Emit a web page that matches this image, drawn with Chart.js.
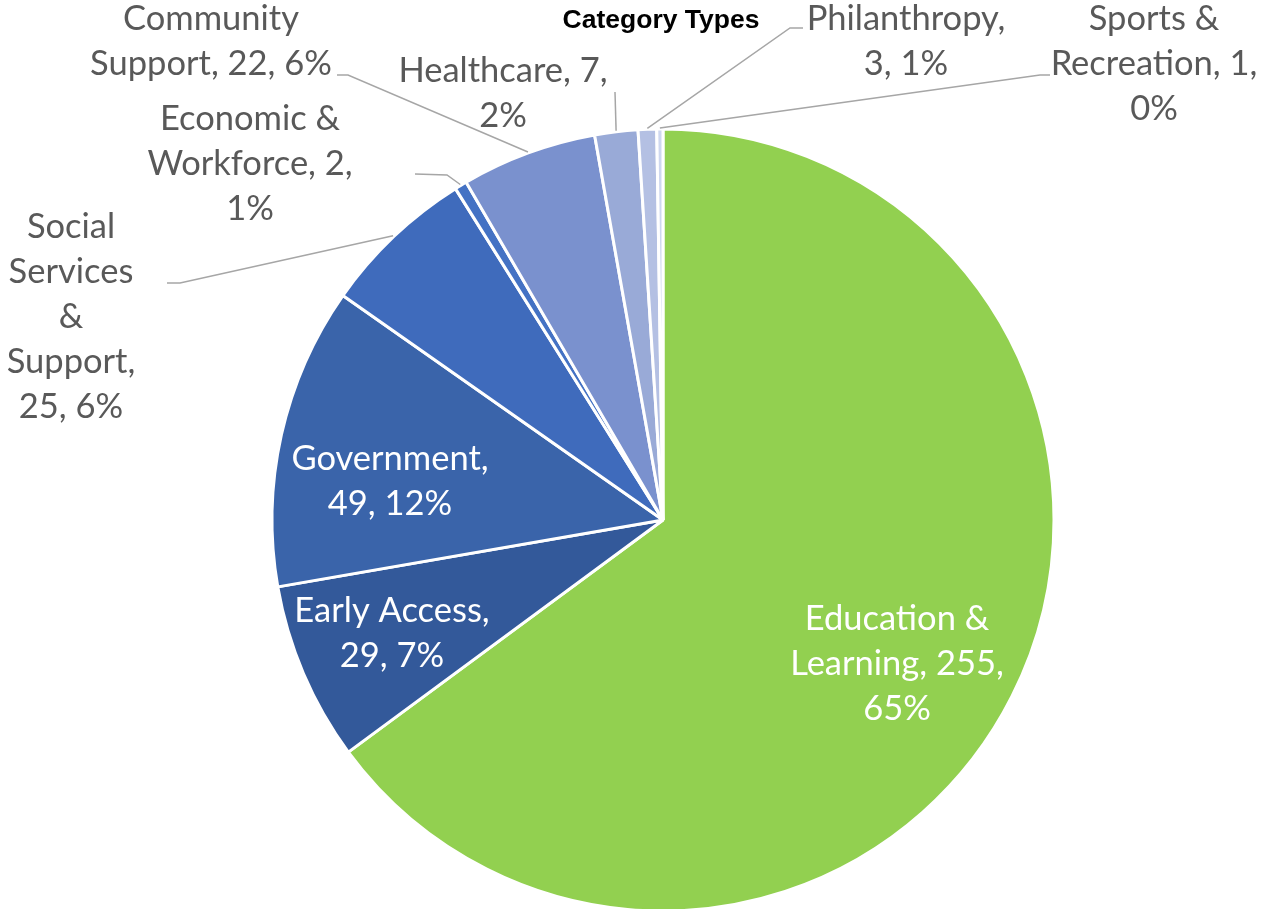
<!DOCTYPE html>
<html><head><meta charset="utf-8">
<script src="https://cdn.jsdelivr.net/npm/chart.js@4.4.1/dist/chart.umd.min.js"></script>
<style>html,body{margin:0;padding:0;background:#fff;overflow:hidden}#wrap{width:1264px;height:909px;position:relative}</style>
</head><body><div id="wrap"><canvas id="c"></canvas></div>
<script>
// ---- data ----
const chartTitle = "Category Types";
const categories = ["Education & Learning", "Early Access", "Government", "Social Services & Support", "Economic & Workforce", "Community Support", "Healthcare", "Philanthropy", "Sports & Recreation"];
const counts = [255, 29, 49, 25, 2, 22, 7, 3, 1];

// ---- styles / layout ----
const sliceColors = ["#92D050", "#33599A", "#3A64AA", "#3F6BBC", "#4472C4", "#7A91CE", "#99AAD7", "#B4C0E3", "#CED7EF"];
const labelLayout = [
  {x: 897, y: 630, wrap: [2, 2, 1], inside: true},
  {x: 392, y: 622, wrap: [2, 2], inside: true},
  {x: 390, y: 470, wrap: [1, 2], inside: true},
  {x: 71,  y: 238, wrap: [1, 1, 1, 1, 2], leader: [[167, 283], [180, 283]]},
  {x: 250, y: 130, wrap: [2, 2, 1], leader: [[415, 174], [447, 175]]},
  {x: 211, y: 30,  wrap: [1, 3], leader: [[337, 75], [348, 75]]},
  {x: 503, y: 82,  wrap: [2, 1], leader: [[615, 92], [615, 92]]},
  {x: 906, y: 30,  wrap: [1, 2], leader: [[803, 28], [790, 28]]},
  {x: 1154, y: 30, wrap: [2, 2, 1], leader: [[1050, 75], [1040, 75]]}
];
const labelFont = '34.5px Lato';
const lineStep = 45;

const labelPlugin = {
  id: 'pieLabels',
  afterDatasetsDraw(chart) {
    const ctx = chart.ctx;
    const meta = chart.getDatasetMeta(0);
    const total = counts.reduce((a, b) => a + b, 0);
    meta.data.forEach((arc, i) => {
      const L = labelLayout[i];
      const pct = Math.round(counts[i] / total * 100);
      const words = `${categories[i]}, ${counts[i]}, ${pct}%`.split(' ');
      const lines = []; let k = 0;
      L.wrap.forEach(n => { lines.push(words.slice(k, k + n).join(' ')); k += n; });
      ctx.save();
      if (L.leader) {
        const p = arc.getProps(['x', 'y', 'startAngle', 'endAngle', 'outerRadius'], true);
        const mid = (p.startAngle + p.endAngle) / 2;
        const r = p.outerRadius + 1;
        const ex = p.x + Math.cos(mid) * r, ey = p.y + Math.sin(mid) * r;
        ctx.strokeStyle = '#A6A6A6'; ctx.lineWidth = 1.5;
        ctx.beginPath();
        ctx.moveTo(L.leader[0][0], L.leader[0][1]);
        ctx.lineTo(L.leader[1][0], L.leader[1][1]);
        ctx.lineTo(ex, ey);
        ctx.stroke();
      }
      ctx.fillStyle = L.inside ? '#FFFFFF' : '#595959';
      ctx.font = labelFont;
      ctx.textAlign = 'center';
      ctx.textBaseline = 'alphabetic';
      lines.forEach((t, j) => ctx.fillText(t, L.x, L.y + j * lineStep));
      ctx.restore();
    });
    ctx.save();
    ctx.fillStyle = '#000';
    ctx.font = 'bold 26.5px "Liberation Sans", Arial, sans-serif';
    ctx.textAlign = 'center';
    ctx.textBaseline = 'alphabetic';
    ctx.fillText(chartTitle, 661, 28);
    ctx.restore();
  }
};

new Chart(document.getElementById('c'), {
  type: 'pie',
  data: {
    labels: categories,
    datasets: [{
      data: counts,
      backgroundColor: sliceColors,
      borderColor: '#FFFFFF',
      borderWidth: 3
    }]
  },
  options: {
    responsive: true,
    maintainAspectRatio: false,
    animation: false,
    radius: 391,
    layout: {padding: {top: 131, left: 62, right: 0, bottom: 0}},
    plugins: {legend: {display: false}, tooltip: {enabled: false}, title: {display: false}}
  },
  plugins: [labelPlugin]
});
</script>
</body></html>
